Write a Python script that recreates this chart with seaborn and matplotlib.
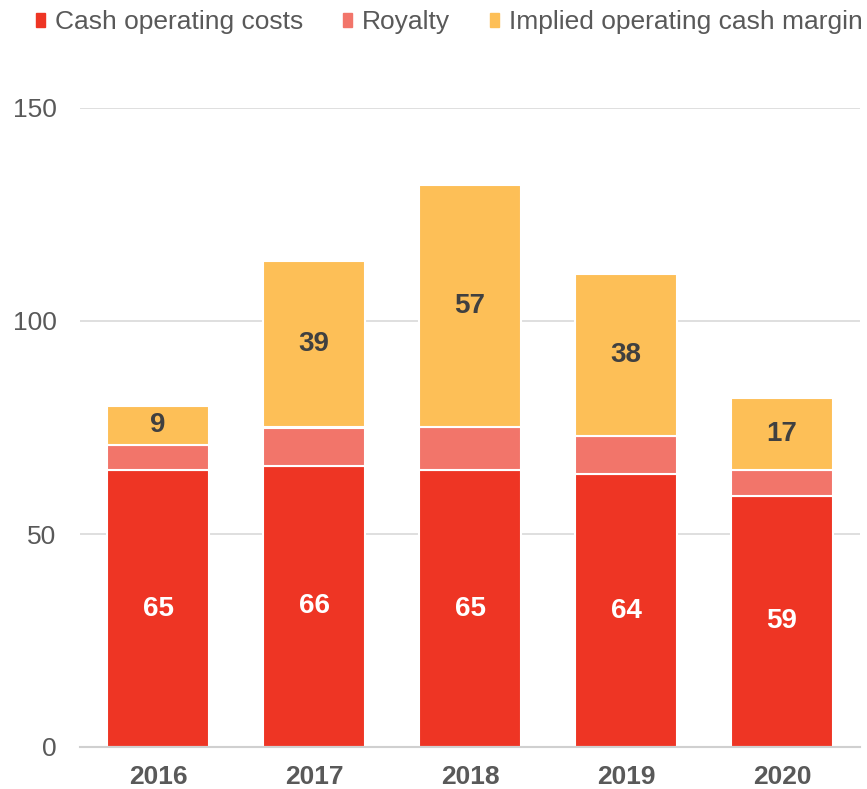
import matplotlib
matplotlib.use("Agg")
import matplotlib.pyplot as plt
import seaborn as sns
import numpy as np
import pandas as pd
from matplotlib.patches import Patch

years = ["2016", "2017", "2018", "2019", "2020"]
cash_costs = [65, 66, 65, 64, 59]
royalty = [6, 9, 10, 9, 6]
margin = [9, 39, 57, 38, 17]
yticks = [0, 50, 100, 150]

c_red = "#EE3524"
c_sal = "#F2756A"
c_yel = "#FDBF57"

sns.set_theme(style="white")
plt.rcParams['font.family'] = ['Liberation Sans', 'DejaVu Sans']

fig = plt.figure(figsize=(8.67, 7.89), dpi=100)
ax = fig.add_axes([80/867, 1-747/789, 780/867, (747-108)/789])

df = pd.DataFrame({"year": years, "cash": cash_costs, "roy": royalty, "mar": margin})
b1 = np.array(cash_costs)
b2 = b1 + np.array(royalty)

w = 0.655
sns.barplot(data=df, x="year", y="cash", color=c_red, width=w, ax=ax,
            edgecolor="white", linewidth=1.5, saturation=1)
sns.barplot(data=df, x="year", y="roy", color=c_sal, width=w, ax=ax, bottom=b1,
            edgecolor="white", linewidth=1.5, saturation=1)
sns.barplot(data=df, x="year", y="mar", color=c_yel, width=w, ax=ax, bottom=b2,
            edgecolor="white", linewidth=1.5, saturation=1)

for i in range(len(years)):
    ax.text(i, cash_costs[i] / 2, str(cash_costs[i]), ha="center", va="center",
            color="white", fontsize=20, fontweight="bold")
    ax.text(i, b2[i] + margin[i] / 2, str(margin[i]), ha="center", va="center",
            color="#404040", fontsize=20, fontweight="bold")

ax.set_xlim(-0.5, 4.5)
ax.set_ylim(0, 150)
ax.set_yticks(yticks)
ax.set_yticklabels([str(t) for t in yticks], fontsize=19, color="#595959")
ax.set_xticks(range(len(years)))
ax.set_xticklabels(years, fontsize=19, fontweight="bold", color="#595959")
ax.set_xlabel("")
ax.set_ylabel("")
ax.yaxis.grid(True, color="#D9D9D9", linewidth=1.2)
ax.set_axisbelow(True)
for s in ["top", "right", "left"]:
    ax.spines[s].set_visible(False)
ax.spines["bottom"].set_color("#D0D0D0")
ax.spines["bottom"].set_linewidth(1.5)
ax.tick_params(axis="y", length=0, pad=17)
ax.tick_params(axis="x", length=0, pad=13)

handles = [Patch(color=c_red), Patch(color=c_sal), Patch(color=c_yel)]
labels = ["Cash operating costs", "Royalty", "Implied operating cash margin"]
fig.legend(handles, labels, loc="upper left", bbox_to_anchor=(0.0145, 1.017), ncol=3,
           frameon=False, fontsize=19, handlelength=0.34, handleheight=0.45,
           handletextpad=0.38, columnspacing=1.5, labelcolor="#595959")

fig.savefig("out.png", dpi=100)
